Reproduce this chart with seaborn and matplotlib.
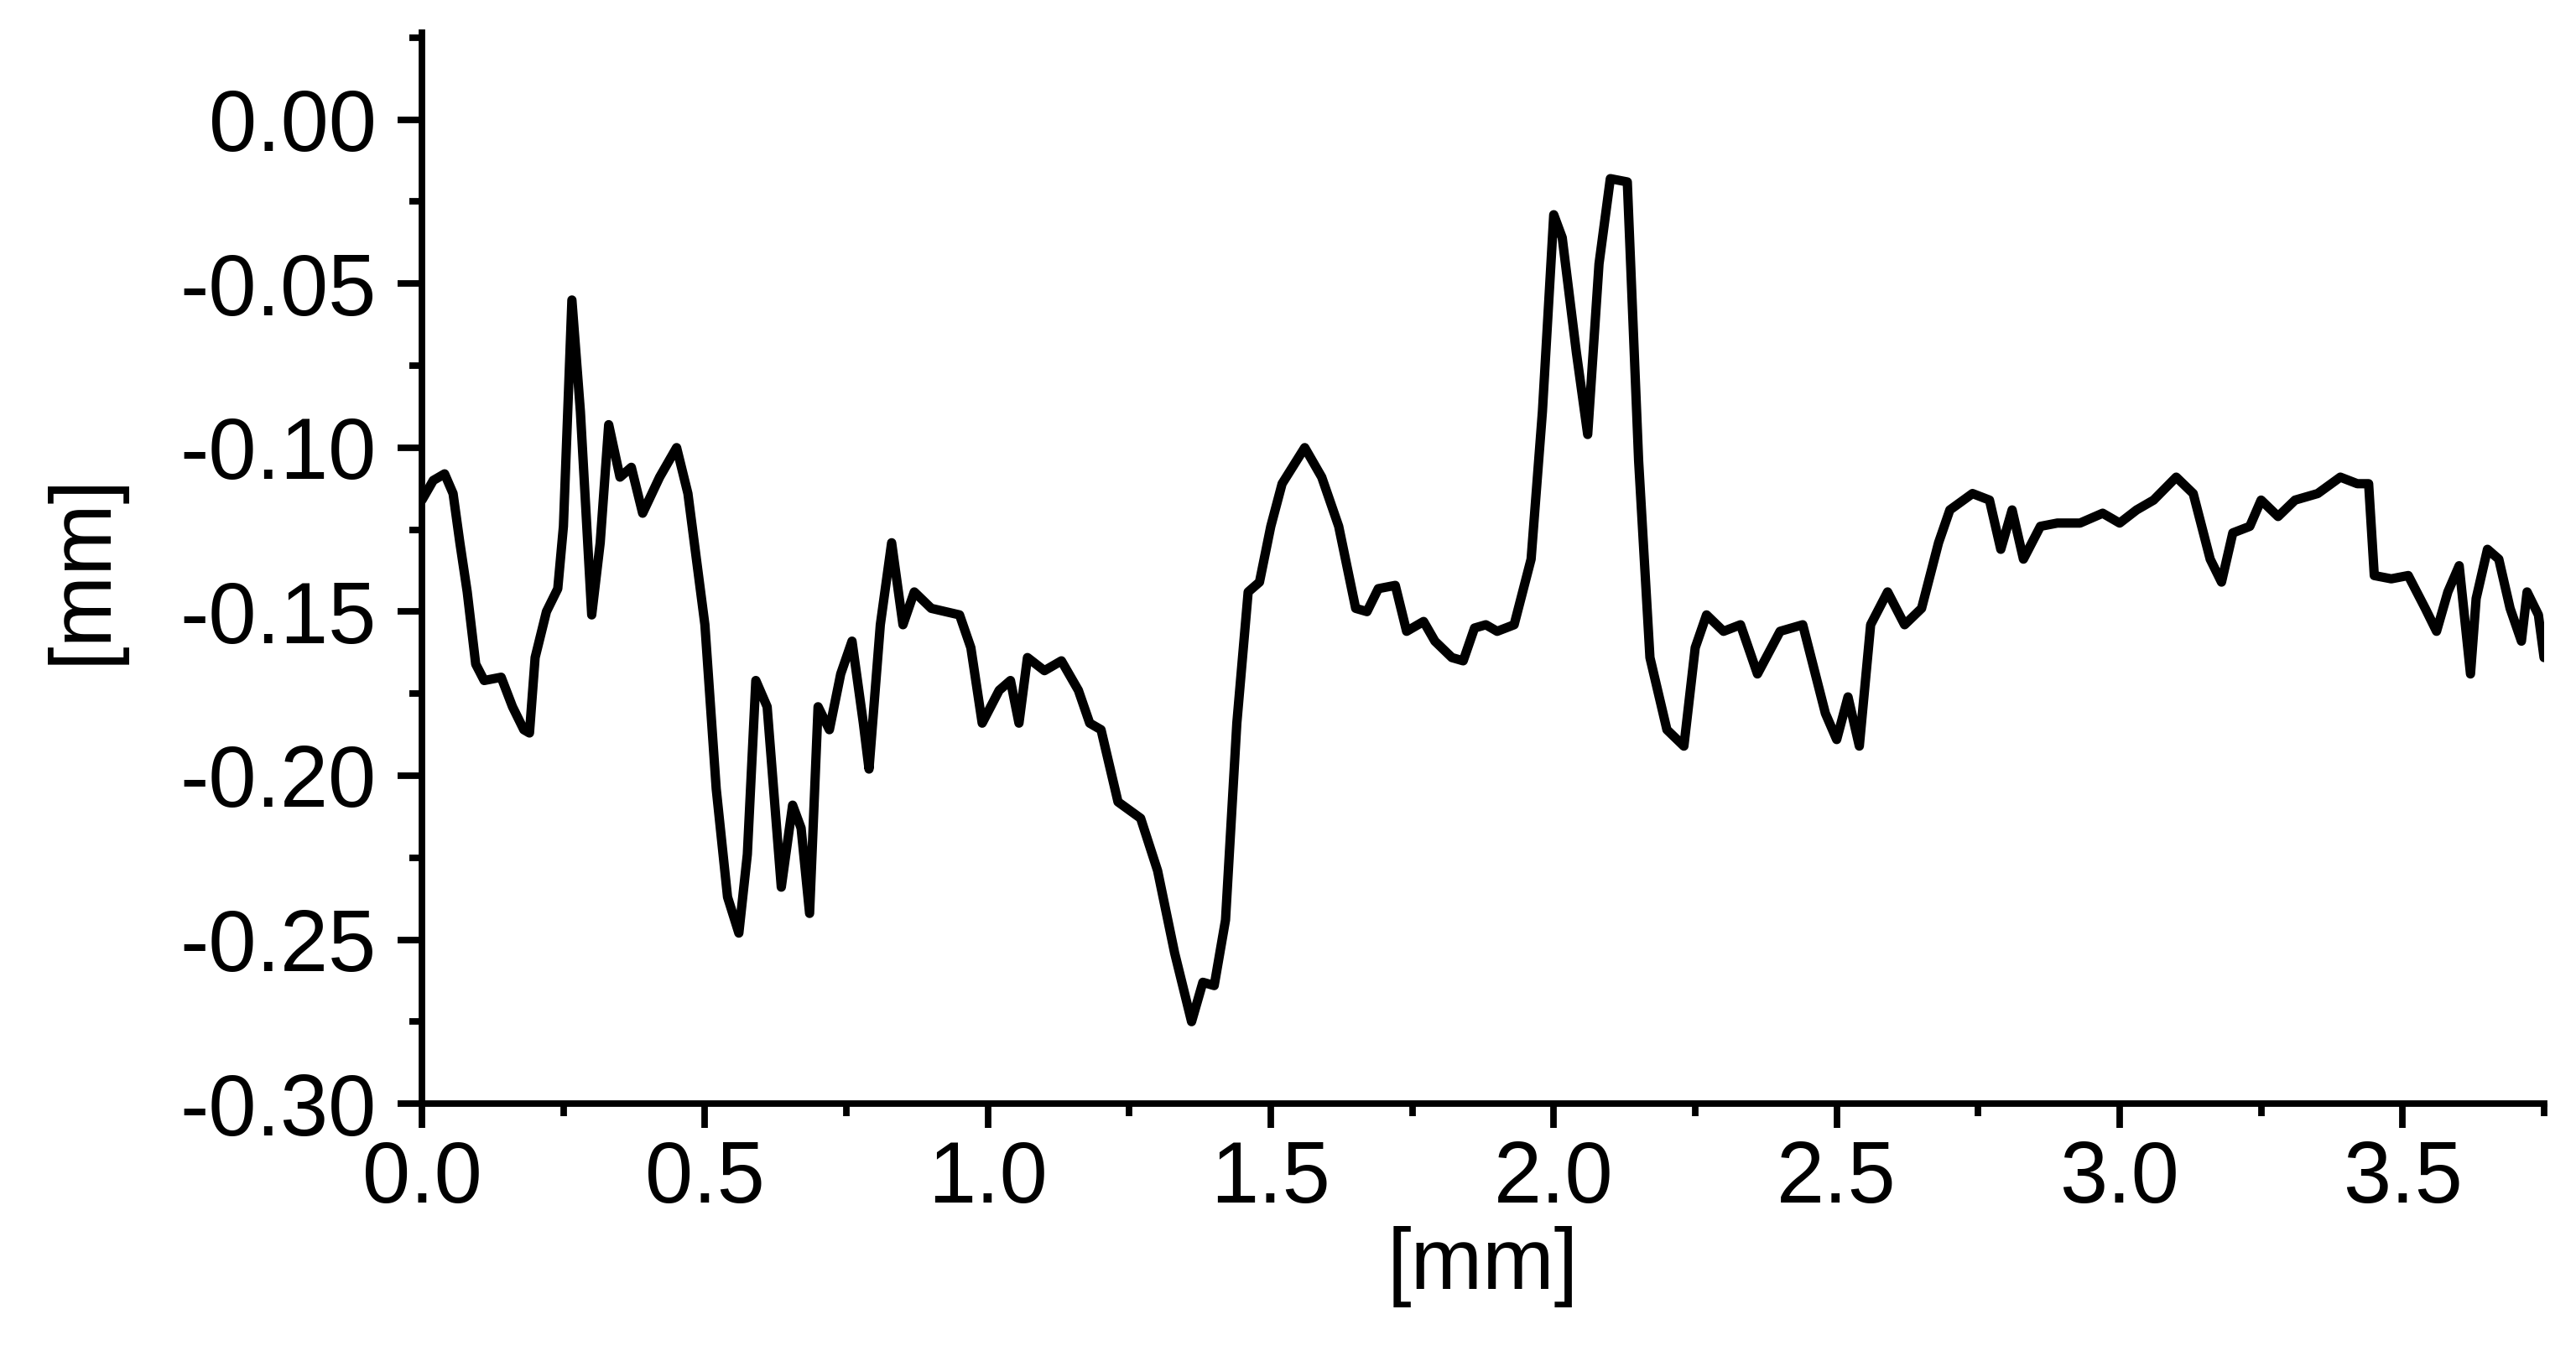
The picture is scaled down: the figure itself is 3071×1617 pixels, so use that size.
import matplotlib
matplotlib.use("Agg")
import matplotlib.pyplot as plt
import seaborn as sns
from matplotlib.ticker import MultipleLocator, FormatStrFormatter

# Profile trace (mm)
x_mm = [0.00, 0.02, 0.04, 0.055, 0.067, 0.08, 0.095, 0.11, 0.14, 0.16, 0.18, 0.19,
        0.20, 0.22, 0.24, 0.25, 0.265, 0.28, 0.30, 0.315, 0.33, 0.35, 0.37, 0.39,
        0.42, 0.45, 0.47, 0.50, 0.52, 0.54, 0.56, 0.575, 0.59, 0.61, 0.635, 0.655,
        0.67, 0.685, 0.70, 0.72, 0.74, 0.76, 0.78, 0.79, 0.81, 0.83, 0.85, 0.87,
        0.90, 0.95, 0.97, 0.99, 1.02, 1.04, 1.055, 1.07, 1.10, 1.13, 1.16, 1.18,
        1.20, 1.23, 1.27, 1.30, 1.33, 1.36, 1.38, 1.40, 1.42, 1.44, 1.46, 1.48,
        1.50, 1.52, 1.56, 1.59, 1.62, 1.65, 1.67, 1.69, 1.72, 1.74, 1.77, 1.79,
        1.82, 1.84, 1.86, 1.88, 1.90, 1.93, 1.96, 1.98, 2.00, 2.015, 2.04, 2.06,
        2.08, 2.10, 2.13, 2.15, 2.17, 2.20, 2.23, 2.25, 2.27, 2.30, 2.33, 2.36,
        2.40, 2.44, 2.48, 2.50, 2.52, 2.54, 2.56, 2.59, 2.62, 2.65, 2.68, 2.70,
        2.74, 2.77, 2.79, 2.81, 2.83, 2.86, 2.89, 2.93, 2.97, 3.00, 3.03, 3.06,
        3.10, 3.13, 3.16, 3.18, 3.20, 3.23, 3.25, 3.28, 3.31, 3.35, 3.39, 3.42,
        3.44, 3.45, 3.48, 3.51, 3.54, 3.56, 3.58, 3.60, 3.62, 3.63, 3.65, 3.67,
        3.69, 3.71, 3.72, 3.74, 3.75]
depth_mm = [-0.116, -0.110, -0.108, -0.114, -0.129, -0.144, -0.166, -0.171, -0.170, -0.179, -0.186, -0.187,
            -0.164, -0.150, -0.143, -0.124, -0.055, -0.089, -0.151, -0.129, -0.093, -0.109, -0.106, -0.120,
            -0.109, -0.100, -0.114, -0.154, -0.204, -0.237, -0.248, -0.224, -0.171, -0.179, -0.234, -0.209,
            -0.216, -0.242, -0.179, -0.186, -0.169, -0.159, -0.184, -0.198, -0.154, -0.129, -0.154, -0.144,
            -0.149, -0.151, -0.161, -0.184, -0.174, -0.171, -0.184, -0.164, -0.168, -0.165, -0.174, -0.184,
            -0.186, -0.208, -0.213, -0.229, -0.254, -0.275, -0.263, -0.264, -0.244, -0.184, -0.144, -0.141,
            -0.124, -0.111, -0.100, -0.109, -0.124, -0.149, -0.150, -0.143, -0.142, -0.156, -0.153, -0.159,
            -0.164, -0.165, -0.155, -0.154, -0.156, -0.154, -0.134, -0.089, -0.029, -0.036, -0.071, -0.096,
            -0.044, -0.018, -0.019, -0.104, -0.164, -0.186, -0.191, -0.161, -0.151, -0.156, -0.154, -0.169,
            -0.156, -0.154, -0.181, -0.189, -0.176, -0.191, -0.154, -0.144, -0.154, -0.149, -0.129, -0.119,
            -0.114, -0.116, -0.131, -0.119, -0.134, -0.124, -0.123, -0.123, -0.120, -0.123, -0.119, -0.116,
            -0.109, -0.114, -0.134, -0.141, -0.126, -0.124, -0.116, -0.121, -0.116, -0.114, -0.109, -0.111,
            -0.111, -0.139, -0.140, -0.139, -0.149, -0.156, -0.144, -0.136, -0.169, -0.146, -0.131, -0.134,
            -0.149, -0.159, -0.144, -0.151, -0.164]

sns.set_style("ticks")
plt.rcParams["font.family"] = ["Liberation Sans", "DejaVu Sans"]
plt.rcParams["axes.unicode_minus"] = False

fig = plt.figure(figsize=(15.355, 8.085), dpi=200)
ax = fig.add_axes([0.1638, 0.1861, 0.8238, 0.7898])

sns.lineplot(x=x_mm, y=depth_mm, color="black", linewidth=4.0, ax=ax, sort=False)
ax.lines[0].set_solid_joinstyle("round")

ax.set_xlim(0, 3.75)
ax.set_ylim(-0.30, 0.0265)
ax.xaxis.set_major_locator(MultipleLocator(0.5))
ax.xaxis.set_minor_locator(MultipleLocator(0.25))
ax.yaxis.set_major_locator(MultipleLocator(0.05))
ax.yaxis.set_minor_locator(MultipleLocator(0.025))
ax.xaxis.set_major_formatter(FormatStrFormatter("%.1f"))
ax.yaxis.set_major_formatter(FormatStrFormatter("%.2f"))

for side in ["top", "right"]:
    ax.spines[side].set_visible(False)
for side in ["left", "bottom"]:
    ax.spines[side].set_linewidth(2.8)
    ax.spines[side].set_color("black")

ax.tick_params(which="major", direction="out", length=10.5, width=2.8,
               labelsize=37, colors="black")
ax.tick_params(axis="x", which="major", pad=5)
ax.tick_params(axis="y", which="major", pad=9)
ax.tick_params(which="minor", direction="out", length=5.5, width=2.8, colors="black")

ax.set_xlabel("[mm]", fontsize=37, labelpad=2, color="black")
ax.set_ylabel("[mm]", fontsize=37, labelpad=24, color="black")

fig.savefig("out.png", dpi=200, facecolor="white")
